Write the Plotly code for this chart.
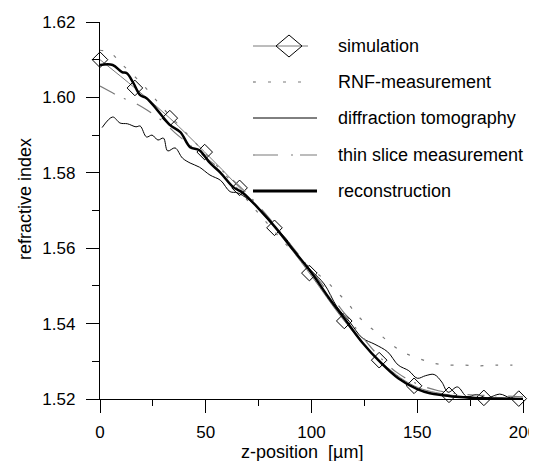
import plotly.graph_objects as go

# ---- data ----
sim_x = [0, 16.5, 33, 49.5, 66, 82.5, 99, 115.5, 132, 148.5, 165, 181.5, 198]
sim_y = [1.6100, 1.6025, 1.5945, 1.5855, 1.5760, 1.5654, 1.5534, 1.5407, 1.5303, 1.5235, 1.5211, 1.5203, 1.5201]

rnf_x = [0, 5, 10, 20, 30, 40, 50, 60, 70, 80, 90, 100, 107, 112, 117, 122, 127.7, 131.5, 137, 143, 150, 157, 164.6, 172, 179, 187, 195]
rnf_y = [1.6125, 1.6118, 1.6090, 1.6035, 1.5970, 1.5910, 1.5850, 1.5790, 1.5725, 1.5660, 1.5598, 1.5545, 1.5513, 1.5484, 1.5455, 1.5420, 1.5390, 1.5375, 1.5349, 1.5325, 1.5309, 1.5296, 1.5290, 1.5290, 1.5288, 1.5290, 1.5290]

dt_x = [1, 6, 9.5, 13, 17, 19, 22, 24.6, 27.4, 30, 32, 35.5, 39, 42.6, 47, 52, 57, 61.5, 65, 70, 76, 82, 88, 94, 100, 106, 112, 118, 124, 130, 136, 141, 146, 150, 154, 158, 161.6, 164.6, 169, 173.5, 178, 183, 189, 194, 200]
dt_y = [1.5920, 1.5948, 1.5932, 1.5930, 1.5922, 1.5924, 1.5895, 1.5900, 1.5887, 1.5892, 1.5858, 1.5866, 1.5839, 1.5826, 1.5815, 1.5794, 1.5780, 1.5750, 1.5747, 1.5730, 1.5700, 1.5660, 1.5625, 1.5578, 1.5540, 1.5505, 1.5445, 1.5405, 1.5362, 1.5345, 1.5325, 1.5290, 1.5275, 1.5255, 1.5262, 1.5265, 1.5245, 1.5218, 1.5232, 1.5206, 1.5212, 1.5203, 1.5213, 1.5203, 1.5201]

ts_x = [0, 5, 10, 16.5, 22, 30, 35.5, 40, 50, 60, 70, 80, 90, 100, 110, 120, 130, 140, 150, 160, 170, 180, 190, 200]
ts_y = [1.6030, 1.6015, 1.6000, 1.5985, 1.5967, 1.5935, 1.5906, 1.5885, 1.5840, 1.5795, 1.5742, 1.5680, 1.5610, 1.5540, 1.5468, 1.5395, 1.5325, 1.5272, 1.5240, 1.5222, 1.5213, 1.5210, 1.5208, 1.5206]

rec_x = [0, 6, 10.4, 12.7, 15.8, 19, 22, 27, 33, 38, 42.6, 47, 52, 57, 63, 67.7, 75, 83, 90, 100, 108, 116, 124, 133, 141, 150, 156, 162, 170, 180, 190, 200]
rec_y = [1.6086, 1.6086, 1.6067, 1.6064, 1.6038, 1.6006, 1.5998, 1.5967, 1.5927, 1.5908, 1.5868, 1.5860, 1.5826, 1.5800, 1.5762, 1.5746, 1.5705, 1.5655, 1.5605, 1.5535, 1.5470, 1.5410, 1.5350, 1.5295, 1.5255, 1.5226, 1.5215, 1.5210, 1.5205, 1.5202, 1.5201, 1.5200]

legend_labels = ["simulation", "RNF-measurement", "diffraction tomography",
                 "thin slice measurement", "reconstruction"]
x_ticks = [0, 50, 100, 150, 200]
y_ticks = [1.52, 1.54, 1.56, 1.58, 1.60, 1.62]

GRAY = "#7a7a7a"
OFF = 8  # page body margin in the browser
W, H = 537 - OFF, 461 - OFF
ML, MT = 100 - OFF, 22 - OFF
PW, PH = 423, 377
MR, MB = W - ML - PW, H - MT - PH

fig = go.Figure()
fig.add_trace(go.Scatter(x=sim_x, y=sim_y, mode="lines+markers", line=dict(color=GRAY, width=1, shape="spline"),
                         marker=dict(symbol="diamond-open", size=12, color="black", line=dict(width=1)),
                         cliponaxis=False, showlegend=False))
fig.add_trace(go.Scatter(x=rnf_x, y=rnf_y, mode="lines", line=dict(color=GRAY, width=1.2, dash="3px,12px", shape="spline"),
                         showlegend=False))
fig.add_trace(go.Scatter(x=dt_x, y=dt_y, mode="lines", line=dict(color="black", width=1, shape="spline"),
                         showlegend=False))
fig.add_trace(go.Scatter(x=ts_x, y=ts_y, mode="lines", line=dict(color=GRAY, width=1.2, dash="17px,10px,2px,12px", shape="spline"),
                         showlegend=False))
fig.add_trace(go.Scatter(x=rec_x, y=rec_y, mode="lines", line=dict(color="black", width=2.5, shape="spline"),
                         showlegend=False))

# ---- hand-drawn legend (paper coordinates from screen pixel positions) ----
def px(xp):
    return (xp - OFF - ML) / PW

def py(yp):
    return (MT + PH - (yp - OFF)) / PH

rows = [46, 82, 118, 155, 191]
styles = [
    dict(color=GRAY, width=1, dash="solid", x1=308),
    dict(color=GRAY, width=1.2, dash="3px,12px", x1=308),
    dict(color="black", width=1, dash="solid", x1=317),
    dict(color=GRAY, width=1.2, dash="25px,13px,2px,7px", x1=317),
    dict(color="black", width=3, dash="solid", x1=317),
]
for yr, st, lab in zip(rows, styles, legend_labels):
    fig.add_shape(type="line", xref="paper", yref="paper", x0=px(253), x1=px(st["x1"]),
                  y0=py(yr), y1=py(yr), line=dict(color=st["color"], width=st["width"], dash=st["dash"]))
    fig.add_annotation(xref="paper", yref="paper", x=px(337), y=py(yr), text=lab, showarrow=False,
                       xanchor="left", yanchor="middle", borderpad=0, font=dict(size=18, color="black"))
cx, cy = 289, rows[0]
fig.add_shape(type="path", xref="paper", yref="paper",
              path=f"M {px(cx-13)},{py(cy)} L {px(cx)},{py(cy-11)} L {px(cx+13)},{py(cy)} L {px(cx)},{py(cy+11)} Z",
              line=dict(color="black", width=1), fillcolor="rgba(0,0,0,0)")

# axis titles
fig.add_annotation(xref="paper", yref="paper", x=px(302), y=py(452), text="z-position\u00a0\u00a0[µm]", showarrow=False,
                   xanchor="center", yanchor="middle", borderpad=0, font=dict(size=18, color="black"))
fig.add_annotation(xref="paper", yref="paper", x=px(25), y=py(199), text="refractive index", showarrow=False,
                   textangle=-90, xanchor="center", yanchor="middle", borderpad=0, font=dict(size=18, color="black"))

fig.update_layout(
    width=W, height=H, margin=dict(l=ML, r=MR, t=MT, b=MB, autoexpand=False),
    paper_bgcolor="white", plot_bgcolor="white",
    font=dict(family="Liberation Sans, Arial, sans-serif", size=17, color="black"),
    showlegend=False,
    xaxis=dict(range=[0, 200], tickvals=x_ticks, ticks="outside", ticklen=13, tickwidth=1, tickcolor="black",
               showline=True, linecolor="black", linewidth=1.3, showgrid=False, zeroline=False,
               ticklabelstandoff=4, ticklabeloverflow="allow",
               minor=dict(dtick=25, ticks="outside", ticklen=6, tickcolor="black", showgrid=False),
               tickfont=dict(size=17)),
    yaxis=dict(range=[1.52, 1.62], tickvals=y_ticks, tickformat=".2f", ticks="outside", ticklen=13, tickwidth=1,
               tickcolor="black", showline=True, linecolor="black", linewidth=1.3, showgrid=False, zeroline=False,
               ticklabelstandoff=7,
               minor=dict(dtick=0.01, ticks="outside", ticklen=7, tickcolor="black", showgrid=False),
               tickfont=dict(size=17)),
)
fig.write_html("out.html")
